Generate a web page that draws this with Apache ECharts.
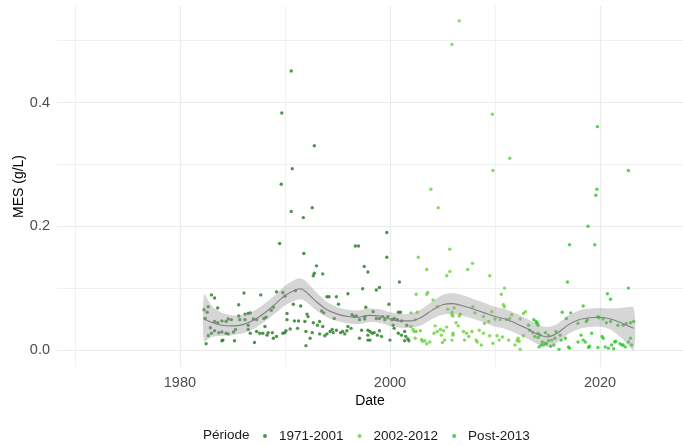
<!DOCTYPE html>
<html>
<head>
<meta charset="utf-8">
<script src="https://cdn.jsdelivr.net/npm/echarts@6/dist/echarts.min.js"></script>
<style>
  html, body { margin: 0; padding: 0; background: #fff; }
  #main { width: 683px; height: 446px; }
</style>
</head>
<body>
<div id="main"></div>
<script>
// points per period: [year, MES g/L]
var pts1971 = [
  [1990.6,0.451],[1989.7,0.383],[1992.8,0.330],[1990.7,0.293],[1989.65,0.268],[1990.6,0.224],[1992.6,0.230],
  [1991.75,0.214],[1989.5,0.172],[1991.8,0.156],[1993.0,0.136],[1992.8,0.124],[1993.6,0.123],[1996.7,0.168],
  [1997.0,0.168],[1999.7,0.190],[1999.7,0.150],[1997.55,0.135],[1997.9,0.126],[2000.9,0.110],[1992.7,0.120],
  [1983.0,0.089],[1983.3,0.084],[1986.1,0.092],[1987.7,0.089],[1983.6,0.068],[1982.3,0.065],[1982.7,0.070],
  [1982.6,0.061],[1982.4,0.051],[1985.6,0.073],[1986.5,0.059],[1986.2,0.058],[1986.7,0.060],[1988.9,0.069],
  [1988.7,0.064],[1989.2,0.094],[1989.8,0.093],[1984.9,0.049],[1984.6,0.050],[1984.4,0.046],[1983.3,0.046],
  [1983.6,0.044],[1984.0,0.047],[1985.6,0.055],[1985.7,0.049],[1986.2,0.049],[1987.0,0.050],[1987.3,0.049],
  [1986.5,0.040],[1988.0,0.051],[1988.2,0.053],[1985.3,0.033],[1985.1,0.029],[1984.0,0.029],[1984.4,0.027],
  [1984.6,0.026],[1983.7,0.028],[1983.3,0.031],[1983.0,0.027],[1982.7,0.023],[1982.9,0.036],[1986.5,0.033],
  [1986.7,0.027],[1987.3,0.030],[1987.6,0.027],[1987.9,0.027],[1988.1,0.038],[1988.4,0.028],[1988.8,0.028],
  [1988.3,0.024],[1988.9,0.019],[1989.2,0.022],[1989.8,0.027],[1984.1,0.016],[1984.0,0.015],[1985.2,0.015],
  [1987.1,0.012],[1982.5,0.010],
  [1990.0,0.087],[1991.0,0.096],[1990.8,0.074],[1991.5,0.071],[1994.0,0.086],[1994.2,0.086],[1994.9,0.086],
  [1996.0,0.091],[1997.4,0.099],[1995.1,0.074],[1993.7,0.060],[1993.5,0.063],[1994.7,0.051],[1992.1,0.058],
  [1992.2,0.054],[1990.2,0.059],[1990.2,0.049],[1990.9,0.047],[1991.3,0.047],[1991.9,0.046],[1993.3,0.046],
  [1992.7,0.044],[1993.1,0.040],[1993.6,0.038],[1991.2,0.035],[1990.5,0.034],[1990.0,0.028],[1990.1,0.031],
  [1992.0,0.030],[1992.6,0.028],[1993.3,0.026],[1994.0,0.026],[1994.3,0.030],[1994.6,0.028],[1994.5,0.033],
  [1994.9,0.032],[1995.3,0.028],[1995.5,0.030],[1995.7,0.026],[1996.0,0.038],[1995.9,0.031],[1996.3,0.035],
  [1996.4,0.057],[1996.6,0.054],[1996.8,0.055],[1997.1,0.049],[1997.3,0.032],[1997.1,0.019],[1997.9,0.016],
  [1992.0,0.007],[1992.4,0.019],[1993.8,0.023],
  [1999.0,0.101],[1998.7,0.097],[1999.9,0.074],[1997.7,0.069],[1997.6,0.054],[1997.6,0.050],[1998.4,0.062],
  [1998.7,0.051],[1999.0,0.051],[1999.3,0.054],[1999.5,0.049],[1999.8,0.054],[2000.2,0.049],[2000.4,0.051],
  [2000.8,0.061],[2001.0,0.061],[2000.7,0.049],[2001.1,0.047],[2000.3,0.040],[2000.4,0.035],[1997.9,0.032],
  [1998.1,0.030],[1998.3,0.027],[1998.5,0.028],[1997.9,0.024],[1999.0,0.031],[1999.2,0.022],[1998.8,0.024],
  [1998.1,0.016],[2000.0,0.016],[2000.8,0.027],[2001.4,0.030],[2001.1,0.024],[2001.5,0.022],[2001.7,0.018],
  [2001.8,0.015],[2001.4,0.015],[2001.6,0.040]
];
var pts2002 = [
  [2006.6,0.532],[2005.9,0.494],[2009.75,0.381],[2011.4,0.310],[2009.8,0.290],[2003.9,0.260],[2004.6,0.230],
  [2005.7,0.163],[2002.7,0.150],[2003.5,0.130],[2005.7,0.127],[2007.85,0.140],[2007.4,0.130],[2005.4,0.120],
  [2002.5,0.090],[2003.6,0.093],[2003.5,0.090],[2004.1,0.081],[2002.0,0.060],[2002.6,0.061],[2004.5,0.070],
  [2005.5,0.066],[2005.9,0.061],[2006.1,0.068],[2002.4,0.049],[2002.0,0.038],[2002.2,0.033],[2002.3,0.030],
  [2002.5,0.030],[2002.9,0.031],[2002.4,0.019],[2003.0,0.017],[2003.3,0.015],[2003.1,0.014],[2003.8,0.013],
  [2003.5,0.010],[2004.3,0.039],[2004.5,0.030],[2004.2,0.027],[2004.8,0.033],[2005.1,0.031],[2004.9,0.024],
  [2005.4,0.037],[2005.2,0.016],[2005.0,0.012],[2005.9,0.016],[2006.0,0.024],
  [2009.5,0.120],[2010.9,0.100],[2010.6,0.090],[2007.9,0.070],[2006.7,0.058],[2006.6,0.055],[2006.0,0.055],
  [2005.9,0.057],[2008.1,0.060],[2008.9,0.054],[2009.7,0.062],[2010.8,0.073],[2010.9,0.070],[2011.6,0.057],
  [2011.4,0.051],[2010.5,0.049],[2011.1,0.049],[2010.0,0.050],[2009.4,0.046],[2009.0,0.043],[2012.4,0.050],
  [2012.9,0.062],[2012.7,0.059],[2006.3,0.044],[2006.5,0.039],[2006.0,0.027],[2007.0,0.030],[2007.3,0.027],
  [2007.5,0.022],[2007.1,0.016],[2007.8,0.030],[2008.5,0.032],[2008.9,0.027],[2008.2,0.016],[2008.3,0.013],
  [2008.7,0.008],[2009.5,0.023],[2010.2,0.023],[2010.4,0.016],[2009.8,0.011],[2010.7,0.021],[2011.3,0.016],
  [2012.1,0.015],[2012.3,0.014],[2012.4,0.001],[2011.9,0.008],[2012.2,0.019],[2012.7,0.023]
];
var pts2013 = [
  [2019.75,0.361],[2022.7,0.290],[2019.7,0.260],[2019.6,0.250],[2018.85,0.200],[2017.1,0.170],[2019.5,0.170],
  [2013.7,0.049],[2013.9,0.046],[2014.0,0.044],[2013.3,0.032],[2013.6,0.028],[2013.8,0.022],[2014.1,0.020],
  [2014.6,0.008],[2013.2,0.040],[2014.9,0.010],[2015.3,0.006],[2015.6,0.008],
  [2016.9,0.110],[2020.7,0.091],[2021.0,0.082],[2022.7,0.100],[2018.4,0.071],[2016.4,0.061],[2017.2,0.060],
  [2016.8,0.051],[2017.9,0.043],[2018.7,0.046],[2018.8,0.049],[2019.8,0.054],[2019.9,0.052],[2020.3,0.050],
  [2020.6,0.044],[2021.0,0.046],[2021.7,0.040],[2022.2,0.040],[2022.5,0.043],[2022.9,0.044],[2023.2,0.046],
  [2014.0,0.043],[2014.1,0.040],[2014.8,0.028],[2015.1,0.024],[2014.1,0.027],[2014.3,0.024],[2015.8,0.030],
  [2016.2,0.024],[2016.3,0.016],[2016.7,0.019],[2015.7,0.019],[2015.4,0.016],[2015.1,0.015],[2014.8,0.011],
  [2014.4,0.008],[2014.2,0.005],[2014.5,0.013],[2016.1,0.001],[2017.0,0.005],[2017.1,0.003],[2018.2,0.024],
  [2018.4,0.016],[2018.6,0.013],[2017.9,0.013],[2019.0,0.006],[2018.9,0.004],[2019.2,0.027],[2020.2,0.022],
  [2020.3,0.019],[2019.8,0.004],[2020.5,0.005],[2020.8,0.003],[2021.1,0.008],[2021.4,0.013],[2021.5,0.014],
  [2021.9,0.010],[2022.1,0.008],[2022.2,0.008],[2022.4,0.005],[2021.3,0.002],[2022.7,0.013],[2022.9,0.019],
  [2023.0,0.008]
];

// loess curve + confidence band
var smoothX  = [1982.3,1983,1984,1985,1986,1987,1988,1989,1990,1991,1991.5,1992,1993,1994,1995,1996,1997,1998,1999,2000,2001,2002,2003,2004,2005,2006,2007,2008,2009,2010,2011,2012,2013,2014,2015,2016,2017,2018,2019,2020,2021,2022,2023.2];
var smoothY  = [0.050,0.045,0.040,0.039,0.041,0.048,0.059,0.073,0.088,0.097,0.099,0.094,0.078,0.065,0.058,0.054,0.053,0.056,0.055,0.050,0.047,0.047,0.053,0.064,0.073,0.075,0.071,0.066,0.060,0.054,0.050,0.043,0.035,0.026,0.021,0.028,0.041,0.049,0.052,0.053,0.050,0.044,0.035];
var bandLo   = [0.014,0.021,0.023,0.024,0.027,0.034,0.045,0.058,0.072,0.080,0.082,0.078,0.064,0.053,0.047,0.043,0.042,0.045,0.044,0.039,0.036,0.036,0.040,0.050,0.057,0.058,0.055,0.050,0.044,0.038,0.034,0.027,0.019,0.010,0.005,0.013,0.026,0.034,0.037,0.038,0.033,0.020,0.000];
var bandHi   = [0.090,0.072,0.060,0.056,0.057,0.063,0.074,0.088,0.104,0.114,0.116,0.111,0.093,0.078,0.069,0.065,0.064,0.067,0.066,0.061,0.058,0.059,0.066,0.078,0.089,0.092,0.088,0.082,0.076,0.070,0.066,0.059,0.051,0.042,0.037,0.043,0.056,0.064,0.067,0.068,0.067,0.068,0.068];

var periods = ['1971-2001', '2002-2012', 'Post-2013'];
var colors = ['#217a21', '#66d133', '#22c922'];
var xMajor = [1980, 2000, 2020];
var xMinor = [1970, 1990, 2010];
var yMajor = [0, 0.2, 0.4];
var yMinor = [0.1, 0.3, 0.5];

var xMin = 1968.3, xMax = 2027.9;
var yMin = -0.0275, yMax = 0.556;

var myChart = echarts.init(document.getElementById('main'));

var gridColor = '#ebebeb';
function mkX(vals, major) {
    return {
        type: 'value', min: xMin, max: xMax, gridIndex: 0,
        name: major ? 'Date' : '', nameLocation: 'middle', nameGap: 27, nameMoveOverlap: false,
        nameTextStyle: { color: '#000', fontSize: 14, fontFamily: 'Liberation Sans' },
        axisLine: { show: false },
        axisTick: { show: false, customValues: vals },
        axisLabel: { show: major, customValues: vals, color: '#4d4d4d', fontSize: 14.5, fontFamily: 'Liberation Sans', margin: 8,
            formatter: function (v) { return String(v); } },
        splitLine: { show: true, lineStyle: { color: gridColor, width: major ? 1.2 : 0.7 } }
    };
}
function mkY(vals, major) {
    return {
        type: 'value', min: yMin, max: yMax, gridIndex: 0,
        name: major ? 'MES (g/L)' : '', nameLocation: 'middle', nameGap: 31, nameMoveOverlap: false,
        nameTextStyle: { color: '#000', fontSize: 14, fontFamily: 'Liberation Sans' },
        axisLine: { show: false },
        axisTick: { show: false, customValues: vals },
        axisLabel: { show: major, customValues: vals, color: '#4d4d4d', fontSize: 14.5, fontFamily: 'Liberation Sans', margin: 7,
            formatter: function (v) { return v.toFixed(1); } },
        splitLine: { show: true, lineStyle: { color: gridColor, width: major ? 1.2 : 0.7 } }
    };
}

var series = [];
for (var i = 0; i < periods.length; i++) {
    series.push({
        name: periods[i],
        type: 'scatter',
        data: [pts1971, pts2002, pts2013][i],
        symbol: 'circle',
        symbolSize: 3.4,
        itemStyle: { color: colors[i] },
        z: 2
    });
}
series.push({
    type: 'custom',
    silent: true,
    data: [[smoothX[0], bandLo[0]]],
    z: 3,
    renderItem: function (params, api) {
        var pts = [];
        for (var k = 0; k < smoothX.length; k++) pts.push(api.coord([smoothX[k], bandHi[k]]));
        for (var k = smoothX.length - 1; k >= 0; k--) pts.push(api.coord([smoothX[k], bandLo[k]]));
        return { type: 'polygon', shape: { points: pts, smooth: 0.25 }, style: { fill: 'rgba(153,153,153,0.4)' } };
    }
});
series.push({
    type: 'line',
    silent: true,
    data: smoothX.map(function (x, k) { return [x, smoothY[k]]; }),
    smooth: 0.3,
    symbol: 'none',
    lineStyle: { color: '#808080', width: 1.1 },
    z: 4
});

option = {
    animation: false,
    grid: { left: 57, right: 0, top: 6, bottom: 79, containLabel: false },
    xAxis: [mkX(xMajor, true), mkX(xMinor, false)],
    yAxis: [mkY(yMajor, true), mkY(yMinor, false)],
    legend: {
        data: periods,
        left: 258, top: 424,
        icon: 'circle', itemWidth: 4, itemHeight: 4, itemGap: 14,
        textStyle: { color: '#1a1a1a', fontSize: 13.5, fontFamily: 'Liberation Sans', padding: [0, 0, 0, 7] }
    },
    graphic: [{
        type: 'text', left: 203, top: 428,
        style: { text: 'Période', fill: '#1a1a1a', font: '13.5px "Liberation Sans"' }
    }],
    series: series
};
myChart.setOption(option);
</script>
</body>
</html>
